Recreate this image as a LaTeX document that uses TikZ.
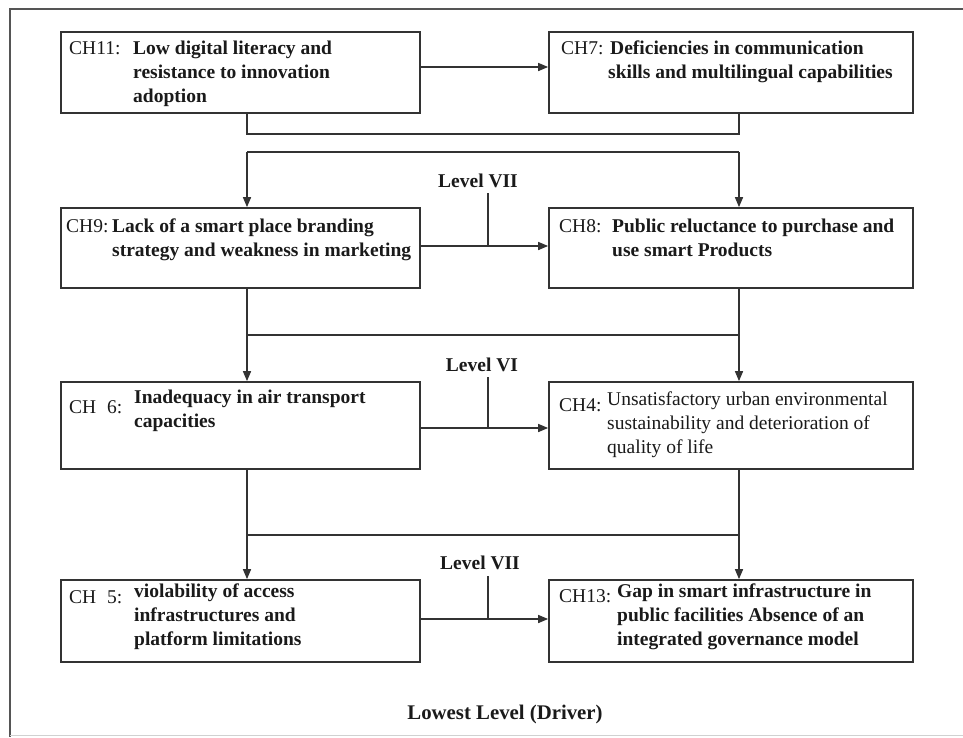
\documentclass[tikz,border=0pt]{standalone}
\usepackage{fontspec}
\setmainfont{Liberation Serif}
\usetikzlibrary{arrows.meta}
\definecolor{ln}{HTML}{333333}
\definecolor{tx}{HTML}{1A1A1A}
\definecolor{frm}{HTML}{555555}
\begin{document}
\begin{tikzpicture}[x=1pt,y=-1pt,
  box/.style={draw=ln, line width=1.7pt, inner sep=0pt},
  conn/.style={draw=ln, line width=1.5pt},
  arr/.style={conn, -{Triangle[length=10pt,width=8pt]}},
  lbl/.style={anchor=base west, inner sep=0pt, text=tx, font=\fontsize{19.5}{24}\selectfont},
  bodyt/.style={anchor=base west, inner sep=0pt, text=tx, font=\fontsize{19.5}{24}\selectfont\bfseries},
  bodyr/.style={anchor=base west, inner sep=0pt, text=tx, font=\fontsize{19.5}{24}\selectfont},
  lvl/.style={anchor=base, inner sep=0pt, text=tx, font=\fontsize{19.5}{24}\selectfont\bfseries}]
\path[use as bounding box, fill=white] (0,0) rectangle (963,737);
% frame
\draw[line width=2pt, frm] (963,9) -- (10,9) -- (10,737);
\draw[line width=1.5pt, black!18] (10,735.5) -- (963,735.5);
% boxes
\node[box, minimum width=359pt, minimum height=81pt] (ch11) at (240.5,72.5) {};
\node[box, minimum width=364pt, minimum height=81pt] (ch7) at (731,72.5) {};
\node[box, minimum width=359pt, minimum height=80pt] (ch9) at (240.5,248) {};
\node[box, minimum width=364pt, minimum height=80pt] (ch8) at (731,248) {};
\node[box, minimum width=359pt, minimum height=87pt] (ch6) at (240.5,425.5) {};
\node[box, minimum width=364pt, minimum height=87pt] (ch4) at (731,425.5) {};
\node[box, minimum width=359pt, minimum height=82pt] (ch5) at (240.5,621) {};
\node[box, minimum width=364pt, minimum height=82pt] (ch13) at (731,621) {};
% texts
\node[lbl] (ch11l) at (69,54) {CH11:};
\node[bodyt] (ch11t) at (133,54) {\parbox[t]{280pt}{Low digital literacy and\\resistance to innovation\\adoption}};
\node[lbl] (ch7l) at (561,54) {CH7:};
\node[bodyt] (ch7t) at (610,54) {\parbox[t]{300pt}{Deficiencies in communication\\\hspace*{-2pt}skills and multilingual capabilities}};
\node[lbl] (ch9l) at (66,232) {CH9:};
\node[bodyt] (ch9t) at (112,232) {\parbox[t]{310pt}{Lack of a smart place branding\\strategy and weakness in marketing}};
\node[lbl] (ch8l) at (559,232) {CH8:};
\node[bodyt] (ch8t) at (612,232) {\parbox[t]{300pt}{Public reluctance to purchase and\\use smart Products}};
\node[lbl] (ch6l) at (69,413) {CH\hspace{0.55em}6:};
\node[bodyt] (ch6t) at (134,403) {\parbox[t]{280pt}{Inadequacy in air transport\\capacities}};
\node[lbl] (ch4l) at (559,411) {CH4:};
\node[bodyr] (ch4t) at (607,405) {\parbox[t]{300pt}{Unsatisfactory urban environmental\\sustainability and deterioration of\\quality of life}};
\node[lbl] (ch5l) at (69,603) {CH\hspace{0.55em}5:};
\node[bodyt] (ch5t) at (134,597) {\parbox[t]{280pt}{violability of access\\infrastructures and\\platform limitations}};
\node[lbl] (ch13l) at (559,602) {CH13:};
\node[bodyt] (ch13t) at (617,597) {\parbox[t]{290pt}{Gap in smart infrastructure in\\public facilities Absence of an\\integrated governance model}};
% level labels
\node[lvl] (lv1) at (478,187) {Level VII};
\node[lvl] (lv2) at (482,371) {Level VI};
\node[lvl] (lv3) at (480,569) {Level VII};
\node[anchor=base, inner sep=0pt, text=tx, font=\fontsize{20.8}{24}\selectfont\bfseries] (low) at (505,719) {Lowest Level (Driver)};
% coordinates
\coordinate (j1l) at (247,134); \coordinate (j1r) at (739,134);
\coordinate (j2l) at (247,152); \coordinate (j2r) at (739,152);
\coordinate (j3l) at (247,335); \coordinate (j3r) at (739,335);
\coordinate (j4l) at (247,535); \coordinate (j4r) at (739,535);
\coordinate (h0) at (488,67);
\coordinate (t1) at (488,193); \coordinate (h1) at (488,246);
\coordinate (t2) at (488,377); \coordinate (h2) at (488,428);
\coordinate (t3) at (488,576); \coordinate (h3) at (488,619);
% connectors
\draw[arr] (ch11.east |- h0) -- (ch7.west |- h0);
\draw[conn] (ch11.south -| j1l) -- (j1l) -- (j1r) -- (ch7.south -| j1r);
\draw[conn] (j2l) -- (j2r);
\draw[arr] (j2l) -- (ch9.north -| j2l);
\draw[arr] (j2r) -- (ch8.north -| j2r);
\draw[arr] (ch9.east |- h1) -- (ch8.west |- h1);
\draw[conn] (t1) -- (h1);
\draw[conn] (ch9.south -| j3l) -- (j3l) -- (j3r) -- (ch8.south -| j3r);
\draw[arr] (j3l) -- (ch6.north -| j3l);
\draw[arr] (j3r) -- (ch4.north -| j3r);
\draw[arr] (ch6.east |- h2) -- (ch4.west |- h2);
\draw[conn] (t2) -- (h2);
\draw[conn] (ch6.south -| j4l) -- (j4l) -- (j4r) -- (ch4.south -| j4r);
\draw[arr] (j4l) -- (ch5.north -| j4l);
\draw[arr] (j4r) -- (ch13.north -| j4r);
\draw[arr] (ch5.east |- h3) -- (ch13.west |- h3);
\draw[conn] (t3) -- (h3);
\end{tikzpicture}
\end{document}
